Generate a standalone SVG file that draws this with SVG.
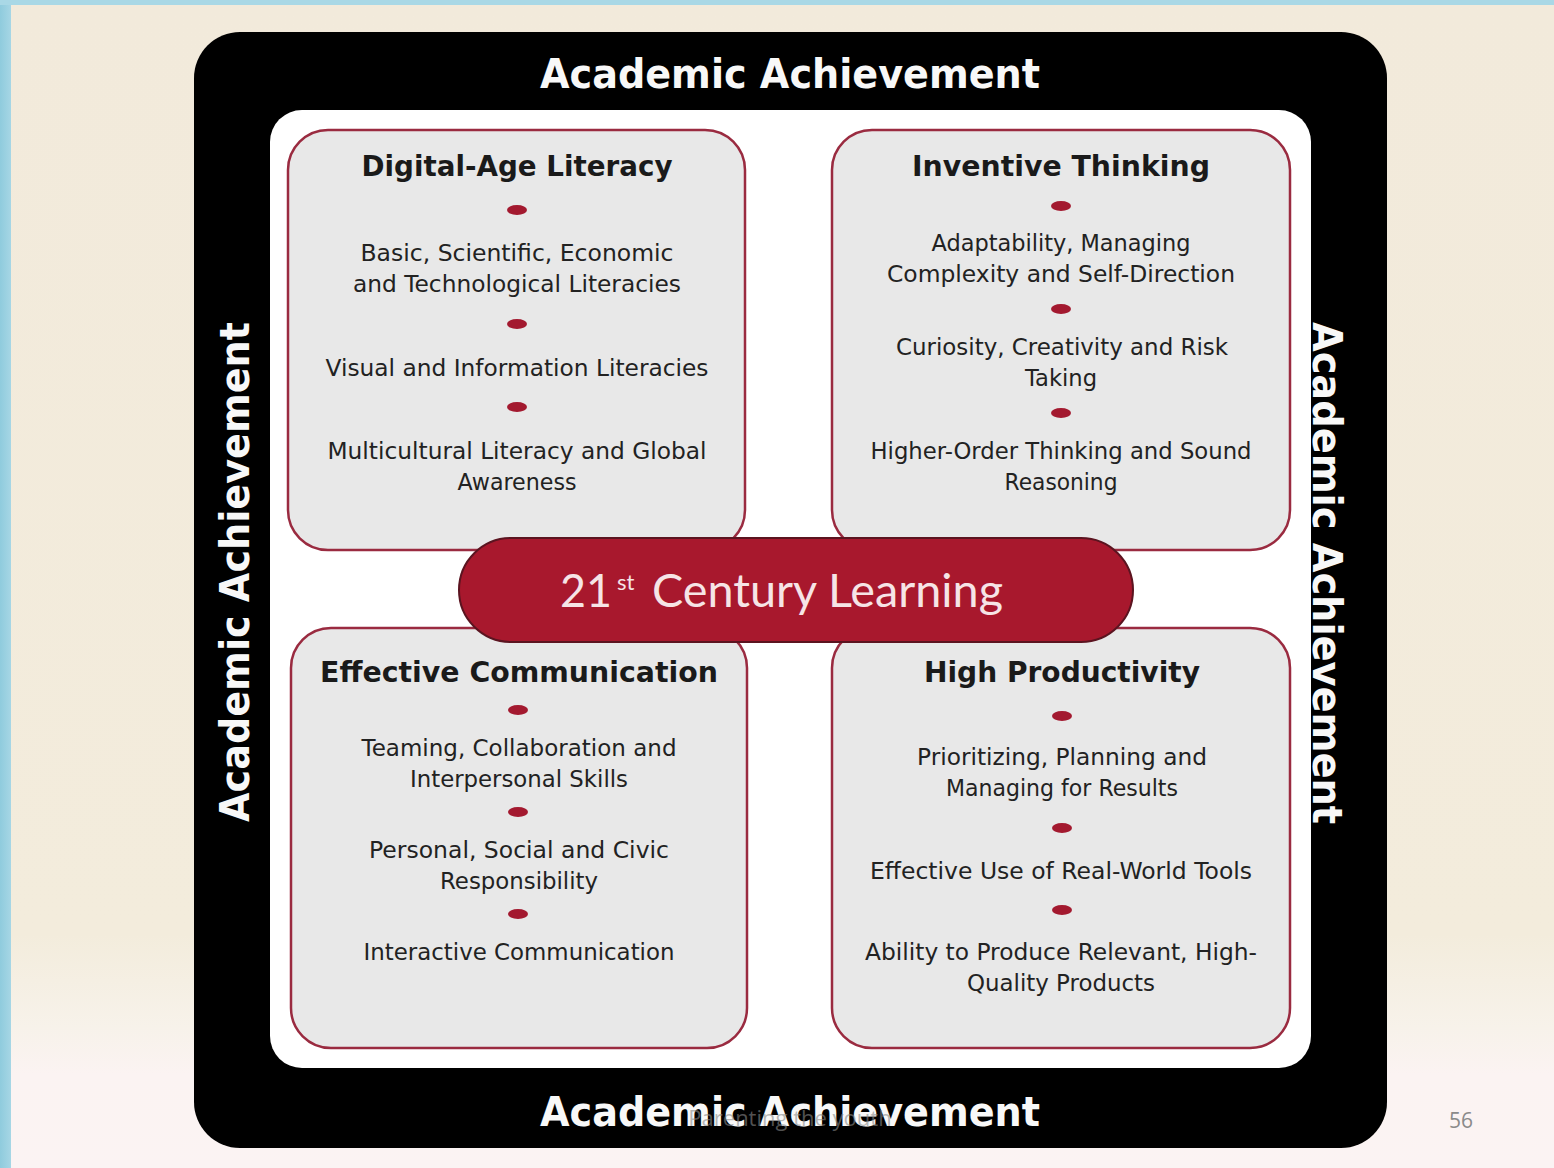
<svg xmlns="http://www.w3.org/2000/svg" width="1554" height="1168" viewBox="0 0 1554 1168">
<defs>
<linearGradient id="bg" x1="0" y1="0" x2="0" y2="1">
<stop offset="0" stop-color="#f2eadb"/>
<stop offset="0.8" stop-color="#f3ecdc"/>
<stop offset="0.88" stop-color="#f7f2ea"/>
<stop offset="0.92" stop-color="#fbf3f2"/>
<stop offset="1" stop-color="#fbf3f3"/>
</linearGradient>
<linearGradient id="blue" x1="0" y1="0" x2="1" y2="0">
<stop offset="0" stop-color="#8fcbdd"/>
<stop offset="1" stop-color="#a6d6e5"/>
</linearGradient>
<style>
.aa{font-family:"DejaVu Sans","Liberation Sans",sans-serif;font-weight:bold;font-size:40px;fill:#f8f8f8;text-anchor:middle}
.box{fill:#e8e8e8;stroke:#9a2b40;stroke-width:2.5}
.dot{fill:#a3192f}
.ttl{font-family:"DejaVu Sans","Liberation Sans",sans-serif;font-weight:bold;font-size:29px;fill:#1a1a1a;text-anchor:middle}
.txt{font-family:"DejaVu Sans","Liberation Sans",sans-serif;font-size:23px;fill:#222;text-anchor:middle}
</style>
</defs>
<g id="background">
<rect x="0" y="0" width="1554" height="1168" fill="url(#bg)"/>
<rect x="0" y="0" width="11" height="1168" fill="url(#blue)"/>
<rect x="0" y="0" width="1554" height="5" fill="#a9d8e6"/>
</g>
<g id="frame">
<rect x="194" y="32" width="1193" height="1116" rx="46" fill="#000"/>
<rect x="270" y="110" width="1041" height="958" rx="32" fill="#fff"/>
<text class="aa" x="790" y="88" textLength="500" lengthAdjust="spacingAndGlyphs">Academic Achievement</text>
<text class="aa" x="790" y="1126" textLength="500" lengthAdjust="spacingAndGlyphs">Academic Achievement</text>
<text class="aa" transform="translate(249,572) rotate(-90)" x="0" y="0" textLength="500" lengthAdjust="spacingAndGlyphs">Academic Achievement</text>
<text class="aa" transform="translate(1313,573) rotate(90)" x="0" y="0" textLength="502" lengthAdjust="spacingAndGlyphs">Academic Achievement</text>
</g>
<g id="connectors"></g>
<g id="digital-age-literacy">
<rect class="box" x="288" y="130" width="457" height="420" rx="40"/>
<text class="ttl" x="517" y="176" textLength="311" lengthAdjust="spacingAndGlyphs">Digital-Age Literacy</text>
<ellipse class="dot" cx="517" cy="210" rx="10" ry="5"/>
<text class="txt" x="517" y="261" textLength="313" lengthAdjust="spacingAndGlyphs">Basic, Scientific, Economic</text>
<text class="txt" x="517" y="292" textLength="328" lengthAdjust="spacingAndGlyphs">and Technological Literacies</text>
<ellipse class="dot" cx="517" cy="324" rx="10" ry="5"/>
<text class="txt" x="517" y="376" textLength="383" lengthAdjust="spacingAndGlyphs">Visual and Information Literacies</text>
<ellipse class="dot" cx="517" cy="407" rx="10" ry="5"/>
<text class="txt" x="517" y="459" textLength="379" lengthAdjust="spacingAndGlyphs">Multicultural  Literacy and Global</text>
<text class="txt" x="517" y="490" textLength="119" lengthAdjust="spacingAndGlyphs">Awareness</text>
</g>
<g id="inventive-thinking">
<rect class="box" x="832" y="130" width="458" height="420" rx="40"/>
<text class="ttl" x="1061" y="176" textLength="298" lengthAdjust="spacingAndGlyphs">Inventive Thinking</text>
<ellipse class="dot" cx="1061" cy="206" rx="10" ry="5"/>
<text class="txt" x="1061" y="251" textLength="259" lengthAdjust="spacingAndGlyphs">Adaptability, Managing</text>
<text class="txt" x="1061" y="282" textLength="348" lengthAdjust="spacingAndGlyphs">Complexity and Self-Direction</text>
<ellipse class="dot" cx="1061" cy="309" rx="10" ry="5"/>
<text class="txt" x="1062" y="355" textLength="332" lengthAdjust="spacingAndGlyphs">Curiosity, Creativity and Risk</text>
<text class="txt" x="1061" y="386" textLength="72" lengthAdjust="spacingAndGlyphs">Taking</text>
<ellipse class="dot" cx="1061" cy="413" rx="10" ry="5"/>
<text class="txt" x="1061" y="459" textLength="381" lengthAdjust="spacingAndGlyphs">Higher-Order Thinking and Sound</text>
<text class="txt" x="1061" y="490" textLength="113" lengthAdjust="spacingAndGlyphs">Reasoning</text>
</g>
<g id="effective-communication">
<rect class="box" x="291" y="628" width="456" height="420" rx="40"/>
<text class="ttl" x="519" y="682" textLength="398" lengthAdjust="spacingAndGlyphs">Effective Communication</text>
<ellipse class="dot" cx="518" cy="710" rx="10" ry="5"/>
<text class="txt" x="519" y="756" textLength="315" lengthAdjust="spacingAndGlyphs">Teaming, Collaboration and</text>
<text class="txt" x="519" y="787" textLength="218" lengthAdjust="spacingAndGlyphs">Interpersonal  Skills</text>
<ellipse class="dot" cx="518" cy="812" rx="10" ry="5"/>
<text class="txt" x="519" y="858" textLength="300" lengthAdjust="spacingAndGlyphs">Personal, Social and Civic</text>
<text class="txt" x="519" y="889" textLength="158" lengthAdjust="spacingAndGlyphs">Responsibility</text>
<ellipse class="dot" cx="518" cy="914" rx="10" ry="5"/>
<text class="txt" x="519" y="960" textLength="311" lengthAdjust="spacingAndGlyphs">Interactive Communication</text>
</g>
<g id="high-productivity">
<rect class="box" x="832" y="628" width="458" height="420" rx="40"/>
<text class="ttl" x="1062" y="682" textLength="276" lengthAdjust="spacingAndGlyphs">High Productivity</text>
<ellipse class="dot" cx="1062" cy="716" rx="10" ry="5"/>
<text class="txt" x="1062" y="765" textLength="290" lengthAdjust="spacingAndGlyphs">Prioritizing, Planning and</text>
<text class="txt" x="1062" y="796" textLength="232" lengthAdjust="spacingAndGlyphs">Managing  for Results</text>
<ellipse class="dot" cx="1062" cy="828" rx="10" ry="5"/>
<text class="txt" x="1061" y="879" textLength="382" lengthAdjust="spacingAndGlyphs">Effective Use of Real-World Tools</text>
<ellipse class="dot" cx="1062" cy="910" rx="10" ry="5"/>
<text class="txt" x="1061" y="960" textLength="392" lengthAdjust="spacingAndGlyphs">Ability to Produce Relevant, High-</text>
<text class="txt" x="1061" y="991" textLength="188" lengthAdjust="spacingAndGlyphs">Quality Products</text>
</g>
<g id="century-learning">
<rect x="459" y="538" width="674" height="104" rx="52" fill="#a8182d" stroke="#5b1420" stroke-width="2"/>
<text font-family="Lato,'Liberation Sans',sans-serif" font-size="46" fill="#f6e4e6" x="560" y="607" textLength="52" lengthAdjust="spacingAndGlyphs">21</text>
<text font-family="Lato,'Liberation Sans',sans-serif" font-size="22" fill="#f6e4e6" x="617" y="590">st</text>
<text font-family="Lato,'Liberation Sans',sans-serif" font-size="46" fill="#f6e4e6" x="652" y="607" textLength="351" lengthAdjust="spacingAndGlyphs">Century Learning</text>
</g>
<g id="footer">
<text font-family="'Open Sans','Liberation Sans',sans-serif" font-size="22" fill="#8a8a8a" fill-opacity="0.6" x="790" y="1126" text-anchor="middle">Parenting the youth</text>
<text font-family="'Open Sans','Liberation Sans',sans-serif" font-size="21" fill="#8a8a8a" x="1461" y="1128" text-anchor="middle">56</text>
</g>
</svg>
